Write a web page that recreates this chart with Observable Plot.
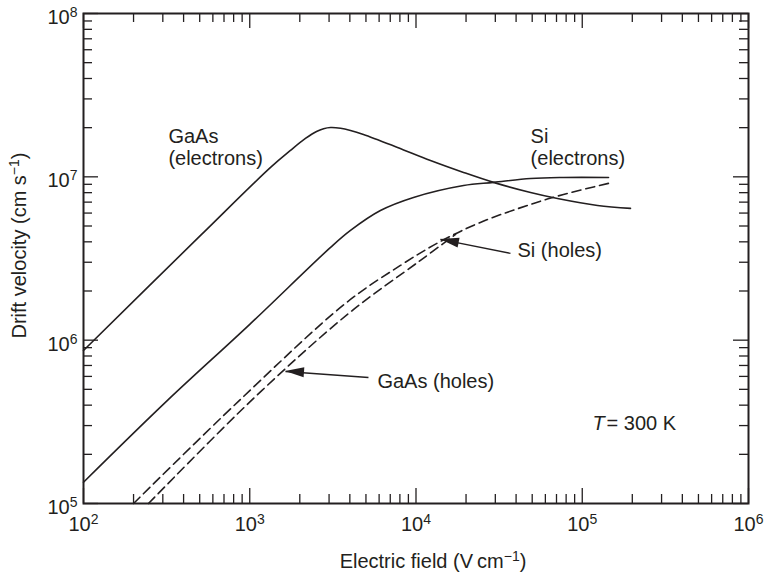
<!DOCTYPE html>
<html>
<head>
<meta charset="utf-8">
<script src="https://cdn.jsdelivr.net/npm/d3@7"></script>
<script src="https://cdn.jsdelivr.net/npm/@observablehq/plot@0.6"></script>
<style>
  body { margin: 0; background: #fff; }
  svg { display: block; }
</style>
</head>
<body>
<div id="chart"></div>
<script>
// ---------- data ----------
const gaasElectronField    = [100, 506, 1334, 1758, 2163, 2522, 2780, 3062, 3516, 4036, 4831, 7745, 12220, 19320, 29240, 48870, 70960, 123600, 195000];
const gaasElectronVelocity = [8.65e5, 4.38e6, 1.143e7, 1.452e7, 1.718e7, 1.897e7, 1.972e7, 2.005e7, 1.985e7, 1.924e7, 1.818e7, 1.514e7, 1.259e7, 1.064e7, 9.25e6, 8.02e6, 7.37e6, 6.68e6, 6.41e6];

const siElectronField    = [100, 320, 1000, 3062, 4036, 6109, 9661, 19320, 29240, 48870, 77090, 143900];
const siElectronVelocity = [1.35e5, 4.28e5, 1.25e6, 3.70e6, 4.70e6, 6.22e6, 7.48e6, 8.85e6, 9.25e6, 9.77e6, 9.91e6, 9.91e6];

const siHoleField    = [200, 855, 3767, 8070, 14030, 24380, 48870, 77090, 143900];
const siHoleVelocity = [1.0e5, 4.22e5, 1.68e6, 2.87e6, 4.02e6, 5.26e6, 6.78e6, 7.80e6, 9.12e6];

const gaasHoleField    = [246, 1054, 3926, 10640, 17290];
const gaasHoleVelocity = [1.0e5, 4.40e5, 1.455e6, 3.08e6, 4.44e6];

const seriesNames = ["GaAs (electrons)", "Si (electrons)", "Si (holes)", "GaAs (holes)"];
const seriesDashed = [false, false, true, true];

// axis ticks
const xMajor = [1e2, 1e3, 1e4, 1e5, 1e6];
const yMajor = [1e5, 1e6, 1e7, 1e8];
const minorSteps = [2, 3, 4, 5, 6, 7, 8, 9];

// annotations
const labelText     = ["GaAs\n(electrons)", "Si\n(electrons)", "Si (holes)", "GaAs (holes)"];
const labelField    = [324, 48900, 40800, 5860];
const labelVelocity = [1.175e7, 1.175e7, 3.21e6, 5.13e5];

const arrowTipField     = [14030, 1641];
const arrowTipVelocity  = [4.14e6, 6.43e5];
const arrowTailField    = [37000, 5176];
const arrowTailVelocity = [3.40e6, 5.91e5];

const tempField = 115300, tempVelocity = 2.8e5;

const xTitle = "Electric field (V\u2009cm^{\u22121})";
const yTitle = "Drift velocity (cm s^{\u22121})";

// ---------- build tables ----------
const series = [
  [gaasElectronField, gaasElectronVelocity],
  [siElectronField, siElectronVelocity],
  [siHoleField, siHoleVelocity],
  [gaasHoleField, gaasHoleVelocity]
];
const rows = series.flatMap(([F, V], i) => F.map((f, j) => ({name: seriesNames[i], dashed: seriesDashed[i], E: f, v: V[j]})));
const solidRows = rows.filter(d => !d.dashed);
const dashedRows = rows.filter(d => d.dashed);

const xMinor = xMajor.slice(0, -1).flatMap(d => minorSteps.map(m => d * m));
const yMinor = yMajor.slice(0, -1).flatMap(d => minorSteps.map(m => d * m));

const labels = labelText.map((t, i) => ({t, E: labelField[i], v: labelVelocity[i]}));
const arrows = arrowTipField.map((f, i) => ({x2: f, y2: arrowTipVelocity[i], x1: arrowTailField[i], y1: arrowTailVelocity[i]}));

const W = 765, H = 575, mL = 83, mR = 17, mT = 13, mB = 72;
const frameW = W - mL - mR, frameH = H - mT - mB;
const ink = "#231f20";
const minorLen = 9, majorLen = 15;
const expFormat = d => `10^{${Math.round(Math.log10(d))}}`;

const plot = Plot.plot({
  width: W, height: H,
  marginLeft: mL, marginRight: mR, marginTop: mT, marginBottom: mB,
  style: {fontFamily: "'Liberation Sans', Arial, Helvetica, sans-serif", fontSize: "20px", color: ink, background: "#fff"},
  x: {type: "log", domain: [1e2, 1e6]},
  y: {type: "log", domain: [1e5, 1e8]},
  marks: [
    // ticks, pointing inward on all four sides
    Plot.tickX(xMinor, {x: d => d, insetTop: frameH - minorLen, stroke: ink, strokeWidth: 1.3}),
    Plot.tickX(xMajor, {x: d => d, insetTop: frameH - majorLen, stroke: ink, strokeWidth: 1.3}),
    Plot.tickX(xMinor, {x: d => d, insetBottom: frameH - minorLen, stroke: ink, strokeWidth: 1.3}),
    Plot.tickX(xMajor, {x: d => d, insetBottom: frameH - majorLen, stroke: ink, strokeWidth: 1.3}),
    Plot.tickY(yMinor, {y: d => d, insetRight: frameW - minorLen, stroke: ink, strokeWidth: 1.3}),
    Plot.tickY(yMajor, {y: d => d, insetRight: frameW - majorLen, stroke: ink, strokeWidth: 1.3}),
    Plot.tickY(yMinor, {y: d => d, insetLeft: frameW - minorLen, stroke: ink, strokeWidth: 1.3}),
    Plot.tickY(yMajor, {y: d => d, insetLeft: frameW - majorLen, stroke: ink, strokeWidth: 1.3}),
    Plot.axisX(xMajor, {tickSize: 0, tickPadding: 13, tickFormat: expFormat, label: null, fill: ink}),
    Plot.axisY(yMajor, {tickSize: 0, tickPadding: 6, dy: 4, tickFormat: expFormat, label: null, fill: ink}),
    // curves
    Plot.line(solidRows, {x: "E", y: "v", z: "name", curve: "catmull-rom", stroke: ink, strokeWidth: 1.6}),
    Plot.line(dashedRows, {x: "E", y: "v", z: "name", curve: "catmull-rom", stroke: ink, strokeWidth: 1.6, strokeDasharray: "9,5"}),
    // annotation labels
    Plot.text(labels, {x: "E", y: "v", text: "t", textAnchor: "start", lineAnchor: "bottom", lineHeight: 1.1, fill: ink}),
    Plot.text(["T"], {x: tempField, y: tempVelocity, text: d => d, textAnchor: "start", lineAnchor: "bottom", fontStyle: "italic", fill: ink}),
    Plot.text(["= 300 K"], {x: tempField, y: tempVelocity, dx: 14, text: d => d, textAnchor: "start", lineAnchor: "bottom", fill: ink}),
    // arrow shafts
    Plot.link(arrows, {x1: "x1", y1: "y1", x2: "x2", y2: "y2", stroke: ink, strokeWidth: 1.4}),
    // axis titles
    Plot.text([xTitle], {frameAnchor: "bottom", text: d => d, dx: 17, dy: 64, lineAnchor: "bottom", textAnchor: "middle", fill: ink}),
    Plot.text([yTitle], {frameAnchor: "left", text: d => d, rotate: -90, dx: -58, dy: -13, lineAnchor: "bottom", textAnchor: "middle", fill: ink}),
    Plot.frame({stroke: ink, strokeWidth: 2})
  ]
});

// superscripts: turn "a^{b}c" into tspans
d3.select(plot).selectAll("text").each(function () {
  const el = this;
  if (el.querySelector("tspan")) return;
  const s = el.textContent;
  if (!s.includes("^{")) return;
  el.textContent = "";
  const re = /\^\{([^}]*)\}/g;
  let last = 0, m, raised = false;
  const add = (txt, sup) => {
    const t = document.createElementNS("http://www.w3.org/2000/svg", "tspan");
    t.textContent = txt;
    if (sup) { t.setAttribute("font-size", "14px"); t.setAttribute("dy", "-7"); raised = true; }
    else if (raised) { t.setAttribute("dy", "7"); raised = false; }
    el.appendChild(t);
  };
  while ((m = re.exec(s))) {
    if (m.index > last) add(s.slice(last, m.index), false);
    add(m[1], true);
    last = re.lastIndex;
  }
  if (last < s.length) add(s.slice(last), false);
});

// filled arrowheads, positioned through the plot's own scales
const sx = plot.scale("x"), sy = plot.scale("y");
const X = d3.scaleLog(sx.domain, sx.range), Y = d3.scaleLog(sy.domain, sy.range);
const headLen = 19, headHalf = 5;
d3.select(plot).append("g").attr("aria-label", "arrowheads")
  .selectAll("path").data(arrows).join("path")
  .attr("fill", ink)
  .attr("d", d => {
    const tx = X(d.x2), ty = Y(d.y2), bx = X(d.x1), by = Y(d.y1);
    const len = Math.hypot(bx - tx, by - ty), ux = (bx - tx) / len, uy = (by - ty) / len;
    const cx = tx + ux * headLen, cy = ty + uy * headLen;
    return `M${tx},${ty}L${cx - uy * headHalf},${cy + ux * headHalf}L${cx + uy * headHalf},${cy - ux * headHalf}Z`;
  });

document.getElementById("chart").append(plot);
</script>
</body>
</html>
